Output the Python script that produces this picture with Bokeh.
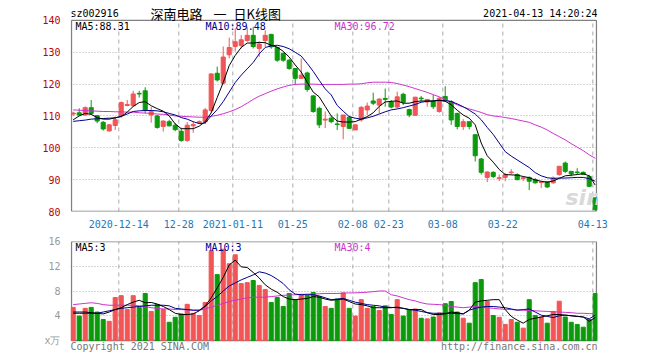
from bokeh.plotting import figure
from bokeh.layouts import column
from bokeh.models import ColumnDataSource, FixedTicker, Label, Range1d
from bokeh.transform import dodge
from bokeh.embed import file_html
from bokeh.resources import INLINE

# Daily bars, 2020-12-02 .. 2021-04-13
opens = [110.6, 111.0, 110.3, 112.6, 110.1, 108.0, 105.3, 107.0, 110.0, 113.3,
         113.2, 117.1, 117.9, 110.3, 110.0, 106.7, 108.2, 107.1, 105.2, 102.3,
         106.9, 107.9, 108.2, 111.7, 123.4, 120.3, 129.2, 131.8, 132.1, 133.7,
         135.3, 131.2, 133.7, 135.6, 131.5, 129.6, 127.5, 124.9, 121.8, 123.5,
         116.3, 112.4, 108.7, 109.3, 107.5, 106.7, 109.6, 105.6, 108.75, 111.9,
         114.7, 113.4, 115.5, 114.4, 112.8, 116.8, 112.0, 110.2, 115.6, 114.4,
         114.5, 111.4, 116.1, 114.5, 110.8, 106.7, 108.2, 104.1, 96.5, 90.7,
         92.3, 90.4, 90.7, 92.2, 91.6, 90.4, 90.7, 90.0, 89.1, 89.3,
         89.0, 91.6, 95.2, 92.6, 92.4, 92.3, 91.0, 84.3]
highs = [111.3, 112.4, 113.0, 115.0, 110.3, 108.4, 107.5, 109.8, 114.5, 115.0,
         117.9, 117.9, 119.0, 112.8, 110.3, 108.6, 108.8, 107.7, 106.3, 108.1,
         108.3, 108.6, 112.5, 123.4, 125.5, 131.8, 134.6, 137.5, 135.4, 138.0,
         138.0, 133.4, 136.9, 135.8, 131.7, 130.0, 127.9, 125.0, 128.0, 123.9,
         116.6, 112.9, 111.4, 110.0, 110.8, 110.3, 110.0, 107.4, 113.1, 114.2,
         117.3, 115.5, 118.6, 115.0, 117.6, 117.3, 112.3, 116.0, 116.3, 115.3,
         116.6, 116.0, 119.3, 115.0, 111.0, 109.0, 108.3, 104.3, 96.8, 92.6,
         92.6, 91.6, 92.1, 93.3, 92.0, 91.0, 91.0, 90.5, 89.5, 89.5,
         91.0, 94.2, 95.7, 92.6, 93.6, 92.6, 91.5, 84.3]
lows = [110.0, 110.0, 110.0, 110.3, 107.7, 105.4, 105.1, 105.6, 109.5, 113.0,
        113.0, 115.8, 110.8, 107.9, 106.0, 105.1, 106.7, 105.2, 101.9, 101.9,
        104.7, 107.5, 107.5, 111.0, 120.8, 120.0, 128.1, 130.2, 131.2, 133.3,
        131.2, 128.6, 131.7, 131.1, 127.0, 127.0, 124.5, 119.7, 121.7, 117.6,
        111.0, 106.2, 106.2, 107.7, 105.6, 102.7, 105.9, 105.6, 108.2, 110.3,
        113.4, 110.8, 112.9, 112.4, 112.4, 113.4, 109.6, 110.0, 114.5, 112.9,
        112.2, 111.0, 114.5, 107.2, 105.8, 105.6, 105.8, 95.7, 91.6, 89.2,
        90.5, 89.5, 89.5, 91.6, 89.8, 89.5, 86.7, 88.75, 87.4, 87.4,
        88.75, 91.25, 92.1, 91.0, 91.6, 91.5, 87.7, 80.1]
closes = [110.9, 110.3, 112.6, 110.8, 108.4, 105.9, 107.2, 108.8, 114.2, 113.6,
          116.9, 116.9, 111.7, 111.3, 106.4, 108.4, 106.9, 105.7, 102.3, 107.1,
          107.3, 108.2, 111.9, 123.2, 121.3, 128.5, 131.5, 133.3, 133.9, 135.3,
          131.8, 132.6, 135.3, 131.7, 127.5, 127.5, 124.9, 121.8, 122.8, 118.3,
          111.4, 107.2, 109.0, 108.2, 107.3, 110.3, 106.1, 107.2, 112.7, 113.1,
          114.0, 115.3, 115.2, 112.8, 116.0, 114.3, 110.3, 115.9, 115.4, 115.2,
          112.9, 115.5, 114.8, 108.75, 106.7, 108.2, 106.7, 97.5, 92.3, 92.4,
          91.0, 90.6, 91.6, 92.4, 90.0, 90.6, 89.5, 89.0, 89.3, 87.7,
          90.5, 94.2, 92.6, 91.8, 92.2, 91.6, 87.9, 80.6]
# volume in units of 10,000 shares
volumes = [5.35, 3.95, 5.2, 5.35, 4.6, 3.4, 3.1, 6.95, 7.25, 5.0,
           7.25, 5.35, 7.6, 4.7, 5.8, 5.0, 2.95, 3.75, 4.3, 5.85,
           4.4, 4.05, 6.15, 14.5, 10.65, 14.75, 12.4, 13.85, 9.2, 9.35,
           9.7, 8.9, 8.25, 6.15, 6.95, 5.5, 7.6, 6.6, 7.45, 7.25,
           7.75, 7.1, 5.5, 5.2, 6.7, 7.7, 5.2, 3.95, 6.6, 5.2,
           5.5, 4.85, 5.6, 4.2, 6.6, 3.95, 5.0, 5.1, 3.6, 3.5,
           3.8, 4.45, 5.95, 6.3, 4.6, 3.6, 2.8, 9.35, 9.85, 6.3,
           4.05, 3.75, 2.6, 3.4, 2.95, 2.0, 6.6, 4.05, 3.8, 2.8,
           4.7, 6.35, 3.8, 2.95, 2.6, 2.15, 3.4, 7.6]

ma5 = [108.8, 110.0, 110.8, 110.5, 109.5, 109.0, 109.0, 109.4, 109.8, 111.2,
       113.0, 114.2, 114.5, 113.2, 112.3, 111.5, 110.0, 107.5, 106.0, 106.0,
       106.0, 106.8, 108.2, 111.0, 115.8, 120.5, 125.8, 129.0, 131.5, 132.9,
       132.9, 133.1, 133.0, 132.2, 131.6, 130.3, 128.5, 126.0, 123.8, 120.6,
       117.5, 116.0, 113.0, 110.0, 108.4, 108.1, 108.1, 108.2, 109.0, 109.8,
       111.0, 113.0, 114.4, 114.6, 114.7, 114.0, 114.0, 114.5, 114.7, 114.7,
       114.7, 114.9, 114.6, 113.5, 111.8, 110.3, 109.3, 107.2, 101.5, 97.5,
       95.5, 93.2, 91.6, 91.5, 91.4, 91.0, 90.6, 89.9, 89.5, 89.2,
       89.6, 90.4, 91.2, 91.4, 91.6, 91.9, 91.2, 88.3]
ma10 = [108.3, 108.5, 108.7, 109.0, 109.1, 109.2, 109.3, 109.4, 109.9, 110.6,
        111.4, 111.6, 111.7, 111.7, 111.6, 111.3, 110.8, 110.3, 109.5, 109.0,
        108.2, 107.6, 107.8, 110.0, 112.0, 114.5, 117.5, 120.5, 122.8, 124.8,
        126.8, 129.5, 131.5, 132.0, 132.2, 131.8, 131.1, 130.0, 128.8, 126.5,
        124.0, 121.2, 118.5, 116.6, 113.3, 111.5, 109.8, 109.3, 109.0, 109.4,
        109.9, 110.6, 111.3, 111.9, 112.2, 112.6, 113.1, 113.6, 114.3, 114.6,
        114.7, 114.9, 114.8, 114.5, 113.8, 112.9, 111.8, 110.6, 108.8, 106.4,
        104.2, 101.5, 98.8, 97.4, 96.2, 95.0, 93.8, 92.2, 91.2, 90.6,
        90.4, 90.5, 90.5, 90.6, 90.7, 90.7, 90.3, 89.5]
ma30 = [111.9, 111.8, 111.7, 111.6, 111.5, 111.4, 111.4, 111.3, 111.3, 111.2,
        111.2, 111.0, 110.9, 110.8, 110.6, 110.5, 110.3, 110.0, 109.9, 109.8,
        109.7, 109.6, 109.6, 109.9, 110.2, 110.7, 111.3, 112.0, 112.9, 114.0,
        115.2, 116.2, 117.0, 117.8, 118.5, 119.1, 119.6, 119.9, 120.0, 120.0,
        120.0, 119.9, 119.9, 119.9, 119.9, 119.9, 120.0, 120.0, 120.1, 120.4,
        120.6, 120.6, 120.6, 120.5, 120.2, 119.7, 119.2, 118.6, 118.0, 117.4,
        116.7, 116.0, 115.3, 114.4, 113.5, 112.8, 112.2, 111.7, 111.1, 110.4,
        110.0, 109.8, 109.5, 109.2, 108.8, 108.4, 108.0, 107.2, 106.5, 105.6,
        104.5, 103.5, 102.5, 101.3, 100.2, 99.1, 97.8, 96.7]

vol_ma5 = [4.6, 4.6, 4.6, 4.5, 4.4, 4.3, 4.6, 5.0, 5.3, 5.8,
           6.2, 6.5, 6.1, 6.15, 5.9, 5.5, 5.0, 4.4, 4.2, 4.2,
           4.3, 4.8, 5.6, 6.9, 8.5, 10.2, 12.2, 13.0, 11.9, 11.8,
           11.0, 10.1, 9.0, 8.3, 7.8, 7.1, 6.7, 6.6, 6.7, 6.8,
           7.1, 7.0, 6.7, 6.5, 6.6, 6.7, 6.3, 5.9, 5.8, 5.6,
           5.3, 5.3, 5.3, 5.3, 5.4, 5.2, 5.0, 5.0, 5.0, 4.5,
           4.2, 4.2, 4.3, 4.6, 4.5, 4.3, 4.9, 6.2, 6.4, 6.5,
           6.6, 6.6, 5.0, 3.9, 3.3, 2.8, 3.4, 3.6, 3.8, 4.0,
           4.2, 4.2, 4.1, 4.0, 3.9, 3.8, 3.1, 3.7]
vol_ma10 = [4.4, 4.4, 4.4, 4.4, 4.4, 4.6, 4.8, 5.0, 5.2, 5.3,
            5.4, 5.5, 5.6, 5.7, 5.7, 5.7, 5.6, 5.2, 5.1, 5.0,
            4.9, 4.9, 5.5, 6.4, 7.1, 8.0, 8.8, 9.3, 9.8, 10.2,
            10.6, 11.1, 10.9, 10.5, 9.9, 9.2, 8.2, 7.5, 7.4, 7.4,
            7.4, 7.2, 6.9, 6.6, 6.7, 6.8, 6.5, 6.2, 6.0, 5.8,
            5.7, 5.6, 5.4, 5.35, 5.3, 5.2, 5.0, 4.9, 4.7, 4.5,
            4.4, 4.4, 4.4, 4.4, 4.35, 4.3, 4.9, 5.2, 5.4, 5.5,
            5.5, 5.4, 5.3, 5.1, 4.9, 5.0, 5.1, 4.6, 4.1, 3.9,
            3.7, 4.0, 4.1, 4.0, 3.9, 3.8, 3.5, 4.1]
vol_ma30 = [5.8, 5.9, 6.0, 6.1, 6.0, 5.8, 5.7, 5.7, 5.7, 5.7,
            5.7, 5.6, 5.5, 5.3, 5.2, 5.1, 5.1, 5.0, 5.0, 4.95,
            4.9, 4.9, 5.1, 5.4, 5.7, 6.0, 6.3, 6.5, 6.7, 6.9,
            7.0, 7.0, 7.0, 7.1, 7.2, 7.3, 7.35, 7.4, 7.45, 7.5,
            7.5, 7.55, 7.6, 7.6, 7.6, 7.65, 7.7, 7.7, 7.75, 7.8,
            7.9, 8.0, 8.0, 7.4, 7.2, 6.9, 6.6, 6.4, 6.1, 5.9,
            5.85, 5.8, 5.7, 5.5, 5.4, 5.3, 5.4, 5.5, 5.4, 5.3,
            5.2, 5.1, 5.05, 5.0, 4.95, 4.9, 4.85, 4.8, 4.75, 4.7,
            4.65, 4.6, 4.55, 4.5, 4.4, 4.4, 4.35, 4.3]

date_tick_idx = [8, 18, 27, 37, 47, 53, 62, 72, 87]
date_tick_labels = ["2020-12-14", "12-28", "2021-01-11", "01-25", "02-08",
                    "02-23", "03-08", "03-22", "04-13"]
price_ticks = [80, 90, 100, 110, 120, 130, 140]
vol_ticks = [0, 4, 8, 12, 16]

UP, DOWN = "#f15555", "#0c9a0c"
MA5_C, MA10_C, MA30_C = "#000000", "#00008c", "#cc33cc"
MONO = "DejaVu Sans Mono"
CJK = "Noto Sans CJK SC"
GRID = "#aaaaaa"
BORDER = "#808080"

n = len(closes)
src = ColumnDataSource(dict(
    idx=list(range(n)),
    high=highs, low=lows,
    top=[max(o, c) for o, c in zip(opens, closes)],
    bot=[min(o, c) for o, c in zip(opens, closes)],
    vol=volumes,
    color=[UP if c >= o else DOWN for o, c in zip(opens, closes)],
    ma5=ma5, ma10=ma10, ma30=ma30,
    vma5=vol_ma5, vma10=vol_ma10, vma30=vol_ma30,
))

X0, X1 = -0.05, 87.78
x_range = Range1d(X0, X1)
xc = dodge("idx", 0.4, range=x_range)
one_px = 1.0 / 6.0  # one pixel in index units, keeps the box edges inside the frame


def style(p, yticks, ycolor, ylo, yhi):
    """Axes, dotted value grid, dashed date grid and a box around ylo..yhi.

    The frame is taller than the boxed area so that the header/footer texts,
    which sit in the frame, stay visible."""
    p.outline_line_color = None
    p.background_fill_color = "white"
    p.border_fill_color = "white"
    for ax in (p.xaxis, p.yaxis):
        ax.axis_line_color = None
        ax.major_tick_line_color = None
        ax.minor_tick_line_color = None
        ax.major_label_text_font = MONO
        ax.major_label_text_font_size = "10px"
    p.yaxis.ticker = FixedTicker(ticks=yticks)
    p.yaxis.major_label_text_color = ycolor
    p.yaxis.major_label_standoff = 4
    p.xgrid.visible = False
    p.ygrid.ticker = FixedTicker(ticks=yticks)
    p.ygrid.grid_line_color = GRID
    p.ygrid.grid_line_dash = "1 2"
    p.segment(x0=date_tick_idx, x1=date_tick_idx, y0=ylo, y1=yhi,
              line_color=GRID, line_dash="4 4", line_width=1)
    # panel border: left, right, top and bottom edges
    left, right = X0 + one_px, X1 - one_px
    p.multi_line(xs=[[left, left], [right, right], [left, right], [left, right]],
                 ys=[[ylo, yhi], [ylo, yhi], [yhi, yhi], [ylo, ylo]],
                 line_color=BORDER, line_alpha=1.0, line_width=1.3)


def label(p, x, y, text, color="#000000", align="left", size="10px", font=MONO, **kw):
    p.add_layout(Label(x=x, y=y, x_units="screen", y_units="screen", text=text,
                       text_color=color, text_align=align, text_baseline="middle",
                       text_font=font, text_font_size=size, **kw))


# ---- price panel ----
p1 = figure(width=660, height=230, x_range=x_range, y_range=Range1d(80, 146.25),
            output_backend="svg", toolbar_location=None,
            min_border_left=70, min_border_right=63, min_border_top=0, min_border_bottom=18)
style(p1, price_ticks, "#c00000", 80, 140)
p1.xaxis.ticker = FixedTicker(ticks=date_tick_idx)
p1.xaxis.major_label_overrides = dict(zip(date_tick_idx, date_tick_labels))
p1.xaxis.major_label_text_color = "#1d78b8"
p1.xaxis.major_label_standoff = 2

label(p1, 495, 14, "sina", color="#d9d9d9", size="22px", font="DejaVu Sans",
      text_font_style="bold italic")

p1.segment(x0=xc, y0="high", x1=xc, y1="low", line_color="color", line_width=1, source=src)
p1.vbar(x=xc, width=0.68, top="top", bottom="bot", fill_color="color",
        line_color="color", line_width=1, source=src)
p1.line(x=xc, y="ma30", line_color=MA30_C, line_width=1, source=src)
p1.line(x=xc, y="ma10", line_color=MA10_C, line_width=1, source=src)
p1.line(x=xc, y="ma5", line_color=MA5_C, line_width=1, source=src)

label(p1, 5, 185, "MA5:88.31", MA5_C)
label(p1, 135, 185, "MA10:89.48", MA10_C)
label(p1, 264, 185, "MA30:96.72", MA30_C)
label(p1, 0, 198, "sz002916")
label(p1, 80, 198, "深南电路", size="13px", font=CJK)
label(p1, 143, 198, "一", size="13px", font=CJK)
label(p1, 163, 198, "日K线图", size="13px", font=CJK)
label(p1, 527, 198, "2021-04-13 14:20:24", align="right")

# ---- volume panel ----
p2 = figure(width=660, height=130, x_range=x_range, y_range=Range1d(-3.23, 16),
            output_backend="svg", toolbar_location=None,
            min_border_left=70, min_border_right=63, min_border_top=11, min_border_bottom=0)
style(p2, vol_ticks, "#999999", 0, 16)
p2.xaxis.visible = False
p2.yaxis.major_label_overrides = {0: "x万"}

p2.vbar(x=xc, width=0.68, top="vol", bottom=0, fill_color="color",
        line_color="color", line_width=1, source=src)
p2.line(x=xc, y="vma30", line_color=MA30_C, line_width=1, source=src)
p2.line(x=xc, y="vma10", line_color=MA10_C, line_width=1, source=src)
p2.line(x=xc, y="vma5", line_color=MA5_C, line_width=1, source=src)

label(p2, 5, 113, "MA5:3", MA5_C)
label(p2, 135, 113, "MA10:3", MA10_C)
label(p2, 264, 113, "MA30:4", MA30_C)
label(p2, 0, 14, "Copyright 2021 SINA.COM", "#777777")
label(p2, 527, 14, "http://finance.sina.com.cn", "#777777", align="right")

layout = column(p1, p2, spacing=0)
open("out.html", "w").write(file_html(layout, INLINE))
